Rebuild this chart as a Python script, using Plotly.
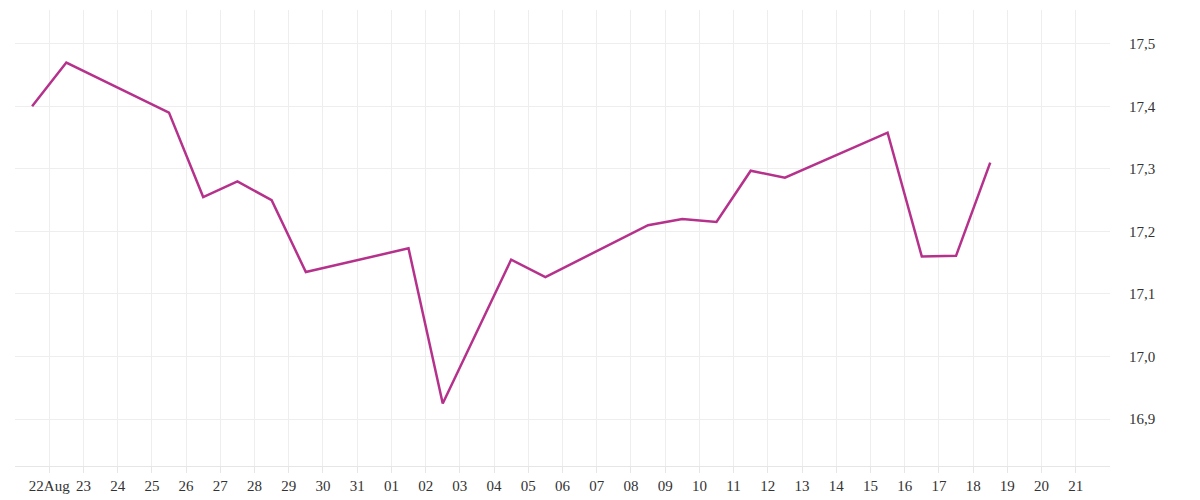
import datetime
import plotly.graph_objects as go

days = [21, 22, 25, 26, 27, 28, 29, 32, 33, 34, 35, 36, 39, 40, 41, 42, 43, 46, 47, 48, 49]
values = [17.40, 17.47, 17.39, 17.255, 17.28, 17.25, 17.135, 17.173, 16.925, 17.04,
          17.155, 17.127, 17.21, 17.22, 17.215, 17.297, 17.286, 17.358, 17.16, 17.161, 17.31]

base = datetime.datetime(2023, 8, 1)
xs = [base + datetime.timedelta(days=d - 1, hours=12) for d in days]

tick_dates = [datetime.datetime(2023, 8, 22) + datetime.timedelta(days=i) for i in range(31)]
tick_text = ["22Aug"] + [d.strftime("%d") for d in tick_dates[1:]]

fig = go.Figure()
fig.add_trace(go.Scatter(x=xs, y=values, mode="lines",
                         line={'color': '#b5318b', 'width': 2.5}, showlegend=False))

# page body has an 8px margin, so shift everything up/left
fig.update_layout(width=1200, height=500, plot_bgcolor="white", paper_bgcolor="white",
                  margin={'l': 7, 'r': 98, 't': 2, 'b': 42},
                  font={'family': "Liberation Serif", 'size': 15, 'color': '#333'})
fig.update_xaxes(range=[datetime.datetime(2023, 8, 21), datetime.datetime(2023, 9, 22)],
                 tickvals=tick_dates, ticktext=tick_text, showgrid=True, gridcolor="#eeeeee",
                 ticks="outside", ticklen=6, tickcolor="#e6e6e6",
                 showline=True, linecolor="#e6e6e6", zeroline=False)
fig.update_yaxes(range=[16.825, 17.554], side="right", dtick=0.1, tickformat=".1f",
                 showgrid=True, gridcolor="#eeeeee", zeroline=False,
                 ticklabelstandoff=18, ticks="")
fig.update_layout(separators=",.")
fig.write_html("out.html")
